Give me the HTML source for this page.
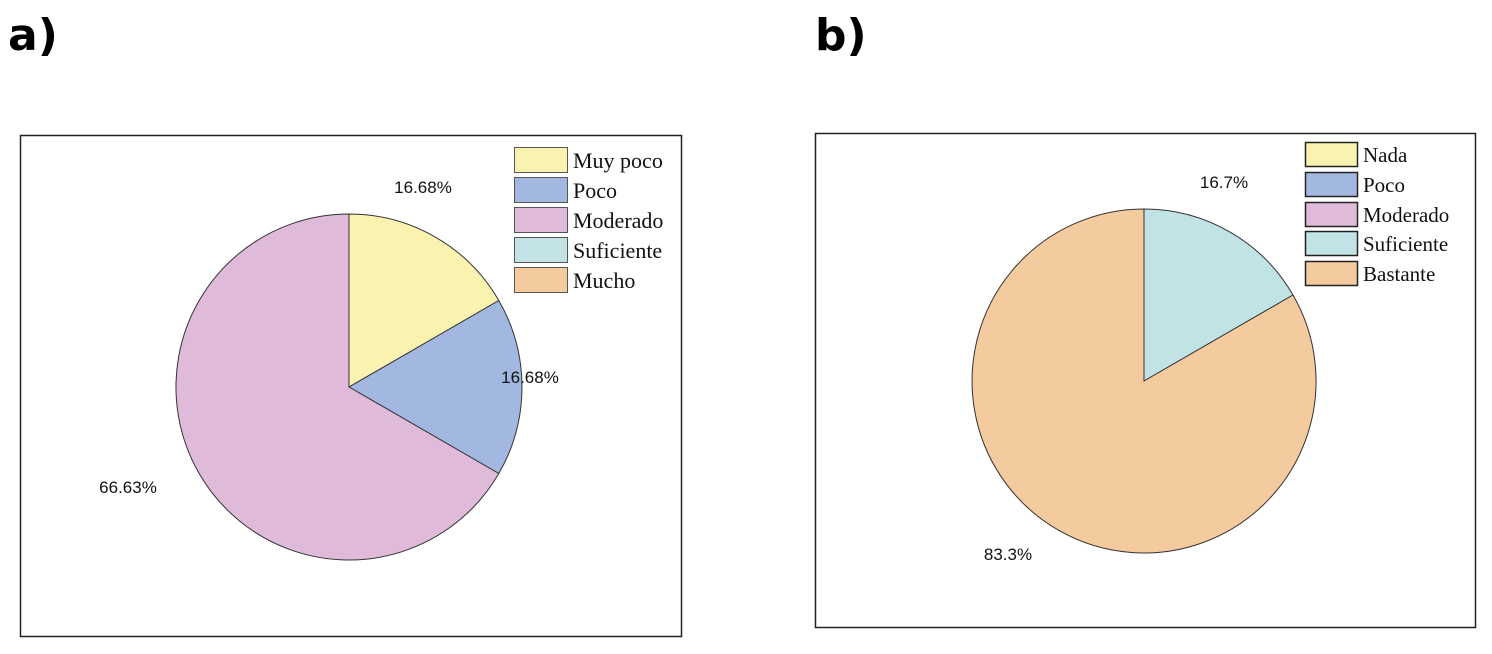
<!DOCTYPE html>
<html><head><meta charset="utf-8"><style>
body{margin:0;background:#fff;width:1492px;height:649px;overflow:hidden}
</style></head><body>
<svg width="1492" height="649" xmlns="http://www.w3.org/2000/svg">
<text x="8" y="50" font-family="DejaVu Sans, sans-serif" font-weight="bold" font-size="44">a)</text>
<text x="815" y="50" font-family="DejaVu Sans, sans-serif" font-weight="bold" font-size="44">b)</text>
<rect x="20.5" y="135.5" width="661" height="501" fill="#fff" stroke="#222" stroke-width="1.5"/>
<rect x="815.5" y="133.5" width="660" height="494" fill="#fff" stroke="#222" stroke-width="1.5"/>
<g stroke="#333" stroke-width="1">
<path d="M349,387 L349,214 A173,173 0 0 1 498.8,300.5 Z" fill="#faf3b0"/>
<path d="M349,387 L498.8,300.5 A173,173 0 0 1 498.8,473.5 Z" fill="#a2b8e0"/>
<path d="M349,387 L498.8,473.5 A173,173 0 1 1 349,214 Z" fill="#e0bbd9"/>
<path d="M1144,381 L1144,209 A172,172 0 0 1 1293,295 Z" fill="#c1e3e6"/>
<path d="M1144,381 L1293,295 A172,172 0 1 1 1144,209 Z" fill="#f4ca9f"/>
</g>
<g font-family="Liberation Sans, sans-serif" font-size="17" fill="#111" text-anchor="middle">
<text x="423" y="193">16.68%</text>
<text x="530" y="383">16.68%</text>
<text x="128" y="493">66.63%</text>
<text x="1224" y="188">16.7%</text>
<text x="1008" y="560">83.3%</text>
</g>
<g stroke="#555" stroke-width="1">
<rect x="514.5" y="147.5" width="53" height="25" fill="#faf3b0"/>
<rect x="514.5" y="177.5" width="53" height="25" fill="#a2b8e0"/>
<rect x="514.5" y="207.5" width="53" height="25" fill="#e0bbd9"/>
<rect x="514.5" y="237.5" width="53" height="25" fill="#c1e3e6"/>
<rect x="514.5" y="267.5" width="53" height="25" fill="#f4ca9f"/>
</g>
<g stroke="#222" stroke-width="1.5">
<rect x="1305.5" y="142.5" width="52" height="24" fill="#faf3b0"/>
<rect x="1305.5" y="172.5" width="52" height="24" fill="#a2b8e0"/>
<rect x="1305.5" y="202.5" width="52" height="24" fill="#e0bbd9"/>
<rect x="1305.5" y="231.5" width="52" height="24" fill="#c1e3e6"/>
<rect x="1305.5" y="261.5" width="52" height="24" fill="#f4ca9f"/>
</g>
<g font-family="Liberation Serif, serif" font-size="22" fill="#111">
<text x="573" y="168">Muy poco</text>
<text x="573" y="198">Poco</text>
<text x="573" y="228">Moderado</text>
<text x="573" y="258">Suficiente</text>
<text x="573" y="288">Mucho</text>
</g>
<g font-family="Liberation Serif, serif" font-size="21" fill="#111">
<text x="1363" y="162">Nada</text>
<text x="1363" y="192">Poco</text>
<text x="1363" y="222">Moderado</text>
<text x="1363" y="251">Suficiente</text>
<text x="1363" y="281">Bastante</text>
</g>
</svg>
</body></html>
